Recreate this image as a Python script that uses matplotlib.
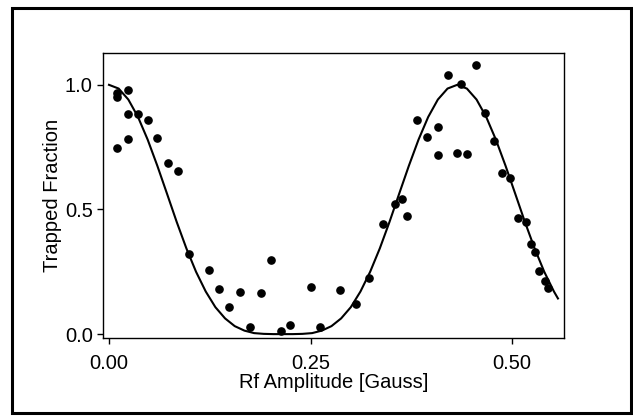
import matplotlib
matplotlib.use("Agg")
import matplotlib.pyplot as plt
from matplotlib.patches import Rectangle

plt.rcParams["font.family"] = ["Liberation Sans", "DejaVu Sans"]
plt.rcParams["font.size"] = 14.5

# measured trapped fraction vs rf amplitude
amp = [0.010, 0.010, 0.010, 0.023, 0.023, 0.023, 0.0355, 0.048, 0.060, 0.073,
       0.085, 0.099, 0.124, 0.137, 0.149, 0.162, 0.175, 0.188, 0.201, 0.213,
       0.225, 0.250, 0.262, 0.287, 0.307, 0.323, 0.340, 0.355, 0.363, 0.370,
       0.382, 0.394, 0.408, 0.408, 0.420, 0.432, 0.437, 0.444, 0.455, 0.467,
       0.478, 0.487, 0.497, 0.507, 0.517, 0.523, 0.528, 0.534, 0.541, 0.545]
frac = [0.967, 0.953, 0.748, 0.980, 0.882, 0.783, 0.882, 0.859, 0.787, 0.686,
        0.656, 0.321, 0.258, 0.180, 0.108, 0.167, 0.029, 0.166, 0.298, 0.012,
        0.036, 0.189, 0.027, 0.177, 0.119, 0.226, 0.443, 0.521, 0.543, 0.474,
        0.858, 0.791, 0.830, 0.718, 1.041, 0.728, 1.003, 0.723, 1.080, 0.885,
        0.776, 0.645, 0.628, 0.467, 0.449, 0.360, 0.329, 0.252, 0.214, 0.186]

# fitted curve
fit_amp = [0.000, 0.012, 0.024, 0.036, 0.048, 0.060, 0.072, 0.084, 0.096, 0.108,
           0.120, 0.132, 0.144, 0.156, 0.168, 0.180, 0.192, 0.204, 0.216, 0.228,
           0.240, 0.252, 0.264, 0.276, 0.288, 0.300, 0.312, 0.324, 0.336, 0.348,
           0.360, 0.372, 0.384, 0.396, 0.408, 0.420, 0.432, 0.444, 0.456, 0.468,
           0.480, 0.492, 0.504, 0.516, 0.528, 0.540, 0.552, 0.557]
fit_frac = [1.000, 0.985, 0.941, 0.871, 0.780, 0.675, 0.563, 0.450, 0.344, 0.250,
            0.171, 0.108, 0.063, 0.032, 0.014, 0.004, 0.001, 0.000, 0.000, 0.000,
            0.001, 0.004, 0.014, 0.032, 0.063, 0.108, 0.171, 0.250, 0.344, 0.450,
            0.563, 0.675, 0.780, 0.871, 0.941, 0.985, 1.000, 0.985, 0.941, 0.871,
            0.780, 0.675, 0.563, 0.450, 0.344, 0.250, 0.171, 0.143]

xticks = [0.0, 0.25, 0.5]
xticklabels = ["0.00", "0.25", "0.50"]
yticks = [0.0, 0.5, 1.0]
yticklabels = ["0.0", "0.5", "1.0"]

fig = plt.figure(figsize=(6.33, 4.2), dpi=100)
ax = fig.add_axes([0.162, 0.195, 0.729, 0.679])

ax.plot(fit_amp, fit_frac, color="black", lw=1.5, zorder=2)
ax.plot(amp, frac, "o", color="black", ms=5.2, zorder=3)

ax.set_xlim(-0.008, 0.5645)
ax.set_ylim(-0.016, 1.128)
ax.set_xticks(xticks)
ax.set_xticklabels(xticklabels)
ax.set_yticks(yticks)
ax.set_yticklabels(yticklabels)
ax.tick_params(direction="out", length=4, width=1, color="black")
ax.tick_params(axis="x", pad=7.5)
ax.tick_params(axis="y", pad=3)
for sp in ax.spines.values():
    sp.set_linewidth(1.0)
    sp.set_color("black")

ax.set_xlabel("Rf Amplitude [Gauss]", labelpad=0)
ax.set_ylabel("Trapped Fraction", labelpad=2)

# outer frame around the whole figure
fig.patches.append(Rectangle((0.019, 0.017), 0.978, 0.964, transform=fig.transFigure,
                             fill=False, edgecolor="black", lw=2.2))

fig.savefig("out.png", dpi=100)
